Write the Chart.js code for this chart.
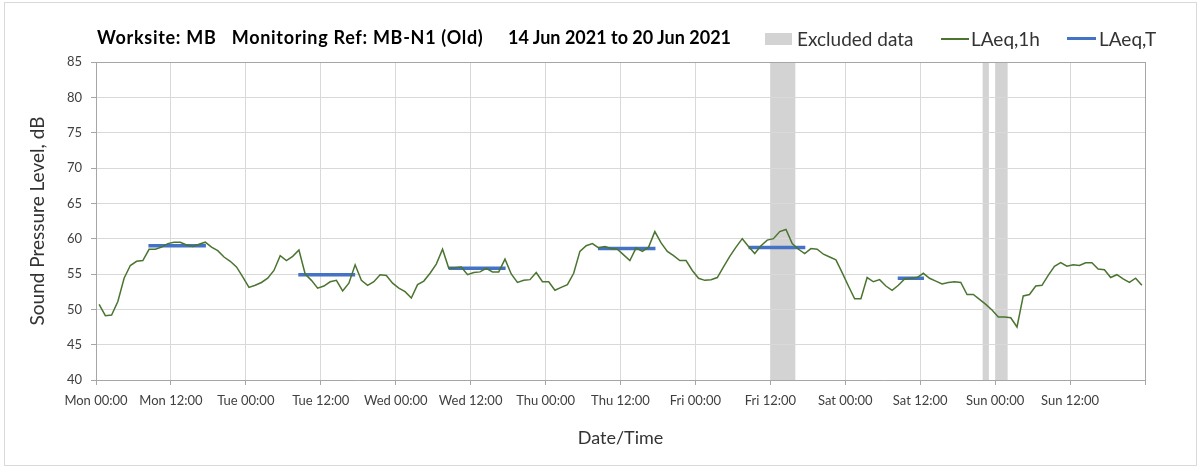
<!DOCTYPE html>
<html>
<head>
<meta charset="utf-8">
<script src="https://cdn.jsdelivr.net/npm/chart.js@4.4.1/dist/chart.umd.min.js"></script>
<style>
html,body{margin:0;padding:0;background:#fff;}
#wrap{position:relative;width:1203px;height:470px;overflow:hidden;font-family:Lato,"Open Sans",sans-serif;color:#262626;}
#frame{position:absolute;left:4px;top:2px;width:1193px;height:464px;border:1px solid #d9d9d9;box-sizing:border-box;}
#c{position:absolute;left:0;top:0;}
.t{position:absolute;font-weight:bold;font-size:18px;line-height:20px;white-space:pre;color:#000;}
.lg{position:absolute;font-size:19px;line-height:20px;white-space:pre;color:#333;}
.sw{position:absolute;}
</style>
</head>
<body>
<div id="wrap">
  <div id="frame"></div>
  <canvas id="c" width="1203" height="470"></canvas>
  <div class="t" style="left:97px;top:27px;letter-spacing:0.7px;">Worksite: MB   Monitoring Ref: MB-N1 (Old)</div>
  <div class="t" style="left:508px;top:27px;">14 Jun 2021 to 20 Jun 2021</div>
  <div class="sw" id="swEx" style="left:765px;top:33px;width:27px;height:12px;"></div>
  <div class="lg" style="left:797px;top:29px;">Excluded data</div>
  <div class="sw" id="sw1h" style="left:941px;top:38px;width:28px;height:2px;"></div>
  <div class="lg" style="left:971px;top:29px;">LAeq,1h</div>
  <div class="sw" id="swT" style="left:1067px;top:37px;width:29px;height:3px;"></div>
  <div class="lg" style="left:1099px;top:29px;">LAeq,T</div>
</div>
<script>
// ---- Data ----
// Hourly LAeq,1h values, hour 0 = Mon 14 Jun 2021 00:00 (plotted at mid-hour)
const levels1h = [
  50.7, 49.1, 49.2, 51.1, 54.4, 56.2, 56.8, 56.9, 58.5, 58.5, 58.8, 59.3,
  59.5, 59.5, 59.1, 58.9, 59.2, 59.5, 58.8, 58.3, 57.4, 56.8, 56.0, 54.6,
  53.1, 53.4, 53.8, 54.4, 55.5, 57.6, 56.9, 57.5, 58.4, 55.0, 54.1, 53.0,
  53.3, 53.9, 54.1, 52.6, 53.7, 56.3, 54.1, 53.4, 53.9, 54.9, 54.8, 53.7,
  53.0, 52.5, 51.6, 53.5, 54.0, 55.1, 56.4, 58.5, 55.8, 55.9, 56.0, 54.9,
  55.2, 55.3, 55.8, 55.3, 55.3, 57.1, 55.0, 53.8, 54.1, 54.2, 55.2, 53.9,
  53.9, 52.7, 53.1, 53.5, 55.1, 58.2, 59.0, 59.3, 58.7, 58.9, 58.6, 58.5,
  57.7, 56.9, 58.7, 58.2, 58.8, 61.0, 59.4, 58.2, 57.6, 56.9, 56.9, 55.5,
  54.4, 54.1, 54.2, 54.5, 56.0, 57.5, 58.8, 60.0, 58.9, 57.9, 59.0, 59.8,
  60.0, 61.0, 61.3, 59.3, 58.5, 57.9, 58.6, 58.5, 57.8, 57.4, 57.0, 55.2,
  53.3, 51.5, 51.5, 54.5, 53.9, 54.2, 53.3, 52.7, 53.4, 54.3, 54.4, 54.5,
  55.1, 54.4, 54.0, 53.6, 53.8, 53.9, 53.8, 52.1, 52.1, 51.4, 50.7, 49.9,
  48.9, 48.9, 48.8, 47.5, 51.9, 52.1, 53.3, 53.4, 54.8, 56.1, 56.6, 56.1,
  56.3, 56.2, 56.6, 56.6, 55.7, 55.6, 54.5, 54.9, 54.3, 53.8, 54.4, 53.4
];
// LAeq,T periods (hours from Mon 00:00) and levels
const periodStart = [8.4, 32.4, 56.5, 80.4, 104.5, 128.4];
const periodEnd   = [17.6, 41.5, 65.6, 89.6, 113.6, 132.6];
const periodLevel = [59.0, 54.9, 55.8, 58.6, 58.75, 54.4];
// Excluded data windows (hours from Mon 00:00)
const excludedStart = [108, 142, 144];
const excludedEnd   = [112, 143, 146];
// X tick labels every 12 h
const tickLabels = ['Mon 00:00','Mon 12:00','Tue 00:00','Tue 12:00','Wed 00:00','Wed 12:00',
  'Thu 00:00','Thu 12:00','Fri 00:00','Fri 12:00','Sat 00:00','Sat 12:00','Sun 00:00','Sun 12:00'];

// ---- Styles ----
const GREEN = '#4a7430';
const BLUE = '#4472c4';
const GREY_EX = '#d3d3d3';
const GRID = '#d9d9d9';
const AXIS = '#a6a6a6';
const FONT = 'Lato, "Open Sans", sans-serif';

document.getElementById('swEx').style.background = GREY_EX;
document.getElementById('sw1h').style.background = GREEN;
document.getElementById('swT').style.background = BLUE;

const lineData = levels1h.map((v, i) => ({x: i + 0.5, y: v}));
const periodData = [];
periodStart.forEach((s, i) => {
  periodData.push({x: s, y: periodLevel[i]});
  periodData.push({x: periodEnd[i], y: periodLevel[i]});
  periodData.push({x: periodEnd[i] + 0.01, y: null});
});

const excludedPlugin = {
  id: 'excluded',
  beforeDraw(chart) {
    const {ctx, chartArea: a, scales: {x}} = chart;
    ctx.save();
    ctx.fillStyle = GREY_EX;
    excludedStart.forEach((s, i) => {
      const x0 = x.getPixelForValue(s), x1 = x.getPixelForValue(excludedEnd[i]);
      ctx.fillRect(x0, a.top, x1 - x0, a.bottom - a.top);
    });
    ctx.restore();
  }
};

new Chart(document.getElementById('c'), {
  type: 'line',
  data: {
    datasets: [
      {label: 'LAeq,1h', data: lineData, borderColor: GREEN, backgroundColor: GREEN,
       borderWidth: 1.5, pointRadius: 0, tension: 0, fill: false},
      {label: 'LAeq,T', data: periodData, borderColor: BLUE, backgroundColor: BLUE,
       borderWidth: 3.5, pointRadius: 0, spanGaps: false, borderCapStyle: 'butt', fill: false}
    ]
  },
  options: {
    responsive: false,
    animation: false,
    devicePixelRatio: 1,
    layout: {padding: {top: 62, right: 58, bottom: 0, left: 0}},
    plugins: {legend: {display: false}, title: {display: false}, tooltip: {enabled: false}},
    scales: {
      x: {
        type: 'linear', min: 0, max: 168,
        afterFit(scale) { scale.height = 90; },
        ticks: {
          stepSize: 12, autoSkip: false, maxRotation: 0, padding: 8,
          color: '#404040', font: {family: FONT, size: 13},
          callback: (v) => (v % 12 === 0 && v / 12 < tickLabels.length) ? tickLabels[v / 12] : ''
        },
        grid: {
          color: (c) => (c.tick && c.tick.value === 168) ? AXIS : GRID,
          tickColor: AXIS, tickLength: 5, lineWidth: 1
        },
        border: {color: AXIS, width: 1},
        title: {display: true, text: 'Date/Time', color: '#333',
                font: {family: FONT, size: 18}, padding: {top: 0, bottom: 21}}
      },
      y: {
        type: 'linear', min: 40, max: 85,
        afterFit(scale) { scale.width = 96; },
        ticks: {stepSize: 5, padding: 9, color: '#404040', font: {family: FONT, size: 13}},
        grid: {
          color: (c) => (c.tick && c.tick.value === 85) ? AXIS : GRID,
          tickColor: AXIS, tickLength: 5, lineWidth: 1
        },
        border: {color: AXIS, width: 1},
        title: {display: true, text: 'Sound Pressure Level, dB', color: '#333',
                font: {family: FONT, size: 19}, padding: {top: 26, bottom: 0}}
      }
    }
  },
  plugins: [excludedPlugin]
});
</script>
</body>
</html>
